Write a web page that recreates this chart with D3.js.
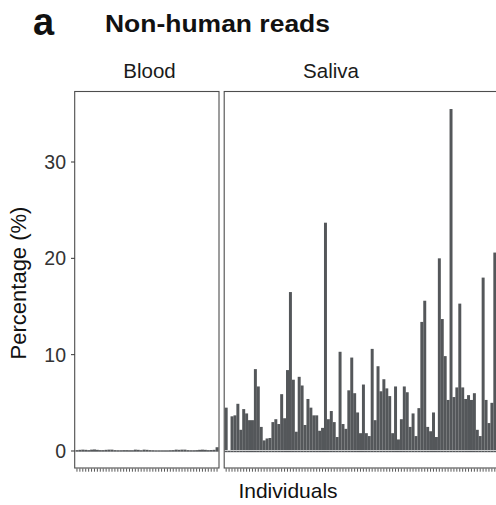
<!DOCTYPE html>
<html>
<head>
<meta charset="utf-8">
<script src="https://cdn.jsdelivr.net/npm/d3@7"></script>
<style>
  body { margin: 0; background: #fff; }
  svg { display: block; font-family: "Liberation Sans", Arial, sans-serif; }
</style>
</head>
<body>
<svg id="chart" width="496" height="505"></svg>
<script>
// values (percentage of non-human reads per individual)
const bloodValues = [0.05, 0.08, 0.1, 0.08, 0.05, 0.1, 0.12, 0.08, 0.05, 0.05, 0.08, 0.1, 0.1,
  0.05, 0.04, 0.04, 0.05, 0.05, 0.04, 0.04, 0.1, 0.08, 0.04, 0.1, 0.08, 0.05, 0.04, 0.03,
  0.03, 0.03, 0.03, 0.03, 0.04, 0.05, 0.1, 0.08, 0.1, 0.1, 0.05, 0.04, 0.04, 0.05, 0.08,
  0.1, 0.08, 0.05, 0.06, 0.08, 0.35];
const salivaValues = [4.5, 0.1, 3.6, 3.7, 4.9, 2.2, 4.35, 3.9, 3.2, 3.2, 8.5, 6.7, 2.5, 1.1,
  1.3, 1.35, 3.0, 3.3, 2.8, 5.9, 3.4, 8.4, 16.5, 7.4, 2.0, 7.7, 6.8, 2.7, 5.4, 4.5, 3.7, 3.7,
  2.1, 2.4, 23.7, 3.3, 4.15, 3.0, 1.45, 10.3, 2.8, 2.3, 6.3, 9.7, 6.0, 4.0, 1.85, 6.9, 1.85,
  1.55, 10.6, 3.2, 8.8, 6.2, 7.45, 6.5, 5.7, 1.85, 6.7, 1.2, 3.3, 6.7, 6.1, 2.5, 3.9, 1.55,
  4.45, 13.4, 15.6, 2.5, 2.05, 4.0, 1.45, 20.0, 13.7, 9.85, 5.3, 35.5, 5.6, 6.6, 15.3, 6.6,
  5.4, 5.8, 5.3, 6.0, 2.2, 1.55, 18.0, 5.3, 2.9, 5.0, 20.6];
const yTicks = [0, 10, 20, 30];
const panelNames = ["Blood", "Saliva"];

const barColor = "#54575a";
const svg = d3.select("#chart");

const y = d3.scaleLinear().domain([-1.765, 37.32]).range([468, 91.5]);

const panels = [
  { name: panelNames[0], values: bloodValues, left: 74.7, right: 219, x0: 75.5, x1: 218.5, labelX: 149.5 },
  { name: panelNames[1], values: salivaValues, left: 224.2, right: 497, x0: 224.7, x1: 224.7 + salivaValues.length * 2.92, labelX: 331 }
];

panels.forEach((p, pi) => {
  const x = d3.scaleBand().domain(d3.range(p.values.length)).range([p.x0, p.x1]).padding(0);
  const g = svg.append("g");

  if (pi === 0) {
    // blood: tiny values, drawn as thin bars hugging zero
    g.selectAll("rect.bar").data(p.values).join("rect")
      .attr("class", "bar")
      .attr("x", (d, i) => x(i))
      .attr("width", x.bandwidth() + 0.05)
      .attr("y", d => y(d) - 0.4)
      .attr("height", d => y(0) - y(d) + 1.1)
      .attr("fill", barColor);
  } else {
    g.selectAll("rect.bar").data(p.values).join("rect")
      .attr("class", "bar")
      .attr("x", (d, i) => x(i))
      .attr("width", x.bandwidth() + 0.05)
      .attr("y", d => y(d))
      .attr("height", d => Math.max(0, y(0) - 0.8 - y(d)))
      .attr("fill", barColor);
    // thin base strip under the white zero gap
    g.selectAll("rect.base").data(p.values).join("rect")
      .attr("class", "base")
      .attr("x", (d, i) => x(i))
      .attr("width", x.bandwidth() + 0.05)
      .attr("y", y(0) - 0.1)
      .attr("height", 1.3)
      .attr("fill", barColor);
  }

  // panel border
  g.append("rect")
    .attr("x", p.left).attr("y", 91.5)
    .attr("width", p.right - p.left).attr("height", 468 - 91.5)
    .attr("fill", "none").attr("stroke", "#4d4d4d").attr("stroke-width", 1.1);

  // one tick per individual
  g.selectAll("line.xt").data(p.values).join("line")
    .attr("class", "xt")
    .attr("x1", (d, i) => x(i) + x.bandwidth() / 2)
    .attr("x2", (d, i) => x(i) + x.bandwidth() / 2)
    .attr("y1", 468.5).attr("y2", 471.7)
    .attr("stroke", "#444").attr("stroke-width", 0.9);

  // strip label
  svg.append("text")
    .attr("x", p.labelX).attr("y", 78)
    .attr("text-anchor", "middle")
    .attr("font-size", 20.5).attr("fill", "#1a1a1a")
    .text(p.name);
});

// y axis
const yAxis = svg.append("g");
yAxis.selectAll("line").data(yTicks).join("line")
  .attr("x1", 71).attr("x2", 74.7)
  .attr("y1", d => y(d)).attr("y2", d => y(d))
  .attr("stroke", "#333").attr("stroke-width", 1);
yAxis.selectAll("text").data(yTicks).join("text")
  .attr("x", 66).attr("y", d => y(d))
  .attr("dy", "0.36em")
  .attr("text-anchor", "end")
  .attr("font-size", 19.5).attr("fill", "#333")
  .text(d => d);

// axis titles
svg.append("text")
  .attr("transform", "translate(26,283) rotate(-90)")
  .attr("text-anchor", "middle")
  .attr("font-size", 22).attr("fill", "#111")
  .text("Percentage (%)");
svg.append("text")
  .attr("x", 288).attr("y", 498)
  .attr("text-anchor", "middle")
  .attr("font-size", 21).attr("fill", "#111")
  .text("Individuals");

// panel letter and title
svg.append("text")
  .attr("x", 33).attr("y", 35)
  .attr("font-size", 38).attr("font-weight", "bold").attr("fill", "#111")
  .text("a");
svg.append("text")
  .attr("x", 105).attr("y", 32)
  .attr("font-size", 23).attr("font-weight", "bold").attr("fill", "#111")
  .attr("textLength", 225).attr("lengthAdjust", "spacingAndGlyphs")
  .text("Non-human reads");
</script>
</body>
</html>
